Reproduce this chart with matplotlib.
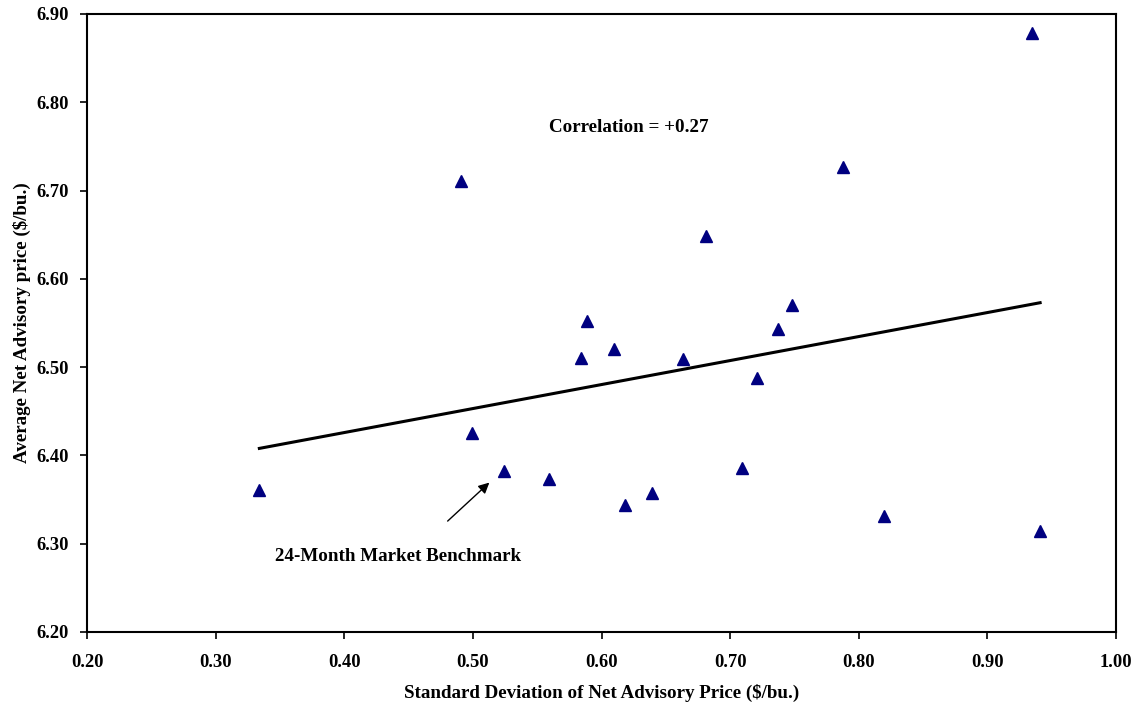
import matplotlib
matplotlib.use("Agg")
import matplotlib.pyplot as plt
import numpy as np

std_dev = [0.334, 0.491, 0.499, 0.524, 0.559, 0.584, 0.589, 0.610, 0.618, 0.639,
           0.663, 0.681, 0.709, 0.721, 0.737, 0.748, 0.788, 0.820, 0.935, 0.941]
avg_price = [6.361, 6.711, 6.425, 6.382, 6.373, 6.510, 6.552, 6.520, 6.344, 6.357,
             6.509, 6.648, 6.386, 6.488, 6.543, 6.570, 6.727, 6.331, 6.878, 6.314]
benchmark_index = 3
correlation_label = "Correlation = +0.27"
benchmark_label = "24-Month Market Benchmark"
x_ticks = [0.20, 0.30, 0.40, 0.50, 0.60, 0.70, 0.80, 0.90, 1.00]
y_ticks = [6.20, 6.30, 6.40, 6.50, 6.60, 6.70, 6.80, 6.90]

plt.rcParams['font.family'] = ['Liberation Serif', 'DejaVu Serif']
plt.rcParams['font.weight'] = 'bold'

fig = plt.figure(figsize=(11.4, 7.09), dpi=100)
ax = fig.add_axes([87/1140, 1-632/709, (1116-87)/1140, (632-14)/709])

x = np.array(std_dev)
y = np.array(avg_price)
ax.plot(x, y, linestyle='none', marker='^', markersize=9, color='#000080', zorder=3)

slope, intercept = np.polyfit(x, y, 1)
xl = np.array([x.min(), x.max()])
ax.plot(xl, slope*xl + intercept, color='black', linewidth=2.2, zorder=2)

ax.text(0.5595, 6.7715, correlation_label, fontsize=13.7, fontweight='bold',
        ha='left', va='center')

ax.annotate("", xy=(x[benchmark_index]-0.0096, y[benchmark_index]-0.0106),
            xytext=(0.4788, 6.3235),
            arrowprops=dict(arrowstyle='-|>', color='black', lw=1.0, mutation_scale=16))
ax.text(0.346, 6.285, benchmark_label, fontsize=13.7, fontweight='bold',
        ha='left', va='center')

ax.set_xlim(0.20, 1.00)
ax.set_ylim(6.20, 6.90)
ax.set_xticks(x_ticks)
ax.set_yticks(y_ticks)
ax.set_xticklabels([f"{v:.2f}" for v in x_ticks])
ax.set_yticklabels([f"{v:.2f}" for v in y_ticks])
ax.tick_params(direction='out', length=5, width=1.2, labelsize=13.3)
ax.tick_params(axis='x', pad=11)
ax.tick_params(axis='y', pad=8)
for lbl in ax.get_xticklabels() + ax.get_yticklabels():
    lbl.set_fontweight('bold')
for s in ax.spines.values():
    s.set_linewidth(1.5)

ax.set_xlabel("Standard Deviation of Net Advisory Price ($/bu.)", fontsize=13.7,
              fontweight='bold', labelpad=9)
ax.set_ylabel("Average Net Advisory price ($/bu.)", fontsize=13.7,
              fontweight='bold', labelpad=4)

fig.savefig("out.png", dpi=100)
